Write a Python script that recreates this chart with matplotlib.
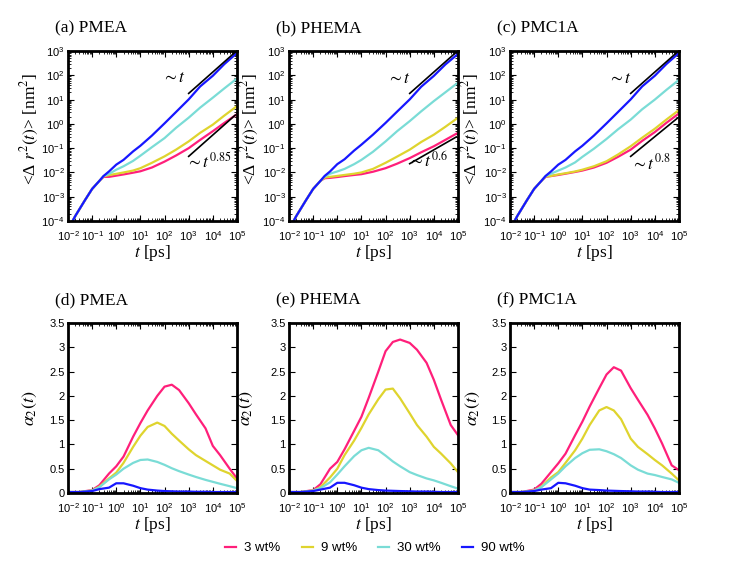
import numpy as np
import matplotlib
matplotlib.use("Agg")
import matplotlib.pyplot as plt
from matplotlib.ticker import LogLocator, FormatStrFormatter, MultipleLocator, NullFormatter

plt.rcParams["font.family"] = ["Liberation Sans", "DejaVu Sans"]
plt.rcParams["mathtext.fontset"] = "stix"

# ------------------------------
# data
# ------------------------------
labels = ["3 wt%", "9 wt%", "30 wt%", "90 wt%"]
colors = ["#ff1f7a", "#dfd42e", "#7adcd6", "#1717ff"]
polymers = ["PMEA", "PHEMA", "PMC1A"]

# MSD <dr^2(t)> [nm^2]
t_msd = [0.01, 0.02, 0.05, 0.1, 0.2, 0.3, 0.5, 1, 2, 5, 10, 30, 100, 300,
         1e3, 3e3, 1e4, 3e4, 1e5]
short_msd = [4.5e-5, 1.6e-4, 7.1e-4, 2.1e-3, 4.5e-3]   # common ballistic part

msd_pmea = {
    "3 wt%":  [6.6e-3, 6.6e-3, 7.4e-3, 8.3e-3, 9.8e-3, 1.12e-2, 1.6e-2, 2.8e-2, 5.0e-2,
               0.10, 0.22, 0.50, 1.1, 2.5],
    "9 wt%":  [7.0e-3, 7.8e-3, 8.8e-3, 1.0e-2, 1.2e-2, 1.5e-2, 2.5e-2, 4.6e-2, 8.7e-2,
               0.19, 0.43, 0.93, 2.2, 5.4],
    "30 wt%": [7.1e-3, 8.7e-3, 1.3e-2, 1.8e-2, 3.0e-2, 4.9e-2, 0.11, 0.26, 0.69,
               1.8, 4.7, 12, 29, 74],
    "90 wt%": [7.2e-3, 1.1e-2, 2.1e-2, 3.3e-2, 7.4e-2, 0.126, 0.33, 1.05, 3.1,
               10.2, 35, 96, 290, 830],
}
msd_phema = {
    "3 wt%":  [5.8e-3, 6.0e-3, 6.5e-3, 7.1e-3, 7.9e-3, 8.5e-3, 1.07e-2, 1.5e-2, 2.3e-2,
               3.9e-2, 6.8e-2, 0.12, 0.22, 0.43],
    "9 wt%":  [6.2e-3, 6.6e-3, 7.2e-3, 7.9e-3, 8.9e-3, 1.0e-2, 1.4e-2, 2.5e-2, 4.5e-2,
               8.7e-2, 0.18, 0.36, 0.76, 1.8],
    "30 wt%": [6.8e-3, 8.9e-3, 1.1e-2, 1.4e-2, 2.2e-2, 3.3e-2, 7.1e-2, 0.19, 0.50,
               1.3, 3.3, 8.7, 20, 50],
    "90 wt%": [7.2e-3, 1.1e-2, 2.2e-2, 3.5e-2, 8.0e-2, 0.14, 0.36, 1.1, 3.2,
               10.2, 34, 95, 280, 760],
}
msd_pmc1a = {
    "3 wt%":  [6.6e-3, 7.1e-3, 7.9e-3, 8.9e-3, 1.05e-2, 1.2e-2, 1.6e-2, 2.5e-2, 4.4e-2,
               8.7e-2, 0.20, 0.46, 1.1, 2.7],
    "9 wt%":  [6.8e-3, 7.2e-3, 8.3e-3, 9.3e-3, 1.1e-2, 1.3e-2, 1.8e-2, 2.9e-2, 5.5e-2,
               0.12, 0.27, 0.63, 1.5, 3.7],
    "30 wt%": [7.1e-3, 8.9e-3, 1.2e-2, 1.6e-2, 2.6e-2, 4.4e-2, 9.5e-2, 0.24, 0.60,
               1.5, 4.0, 10, 25, 65],
    "90 wt%": [7.2e-3, 1.1e-2, 2.1e-2, 3.3e-2, 7.4e-2, 0.126, 0.33, 1.05, 3.1,
               10.2, 35, 96, 290, 830],
}
msd_all = [msd_pmea, msd_phema, msd_pmc1a]

# guide lines and their labels
guide_t = [1e3, 8.5e4]
guide_lin = [[18, 900], [18, 900], [18, 900]]
guide_slow = [[4.6e-2, 2.3], [2.3e-2, 0.29], [4.6e-2, 1.7]]
slow_exp = ["0.85", "0.6", "0.8"]
slow_text_pos = [(7e3, 3.0e-2), (5.5e3, 3.4e-2), (7e3, 2.5e-2)]
lin_text_pos = [(2.5e2, 80), (3.5e2, 75), (3.5e2, 75)]

# non-Gaussian parameter alpha_2(t)
t_a2 = [0.01, 0.03, 0.1, 0.2, 0.5, 1, 2, 5, 10, 20, 50, 100, 200, 400,
        1e3, 2e3, 5e3, 1e4, 2e4, 5e4, 1e5]
a2_pmea = {
    "3 wt%":  [0.02, 0.02, 0.06, 0.16, 0.40, 0.55, 0.75, 1.16, 1.44, 1.70, 2.00, 2.19, 2.23, 2.12,
               1.85, 1.62, 1.33, 0.97, 0.78, 0.50, 0.30],
    "9 wt%":  [0.02, 0.02, 0.05, 0.13, 0.30, 0.42, 0.62, 0.95, 1.18, 1.36, 1.45, 1.38, 1.22, 1.08,
               0.90, 0.78, 0.66, 0.57, 0.48, 0.40, 0.25],
    "30 wt%": [0.02, 0.02, 0.05, 0.12, 0.28, 0.38, 0.50, 0.62, 0.68, 0.69, 0.64, 0.58, 0.51, 0.45,
               0.38, 0.33, 0.27, 0.23, 0.19, 0.14, 0.10],
    "90 wt%": [0.02, 0.02, 0.04, 0.08, 0.11, 0.20, 0.20, 0.15, 0.10, 0.07, 0.05, 0.04, 0.035, 0.03,
               0.03, 0.025, 0.025, 0.02, 0.02, 0.02, 0.02],
}
a2_phema = {
    "3 wt%":  [0.02, 0.02, 0.06, 0.18, 0.50, 0.64, 0.90, 1.28, 1.57, 1.96, 2.50, 2.92, 3.11, 3.16,
               3.09, 2.95, 2.68, 2.33, 1.92, 1.40, 1.19],
    "9 wt%":  [0.02, 0.02, 0.05, 0.12, 0.32, 0.50, 0.78, 1.08, 1.34, 1.62, 1.93, 2.13, 2.15, 1.95,
               1.64, 1.40, 1.16, 0.95, 0.81, 0.61, 0.43],
    "30 wt%": [0.02, 0.02, 0.05, 0.10, 0.22, 0.38, 0.55, 0.76, 0.88, 0.93, 0.88, 0.77, 0.65, 0.55,
               0.43, 0.37, 0.30, 0.26, 0.21, 0.14, 0.09],
    "90 wt%": [0.02, 0.02, 0.04, 0.07, 0.11, 0.21, 0.21, 0.16, 0.11, 0.08, 0.06, 0.05, 0.045, 0.04,
               0.035, 0.03, 0.03, 0.025, 0.02, 0.02, 0.02],
}
a2_pmc1a = {
    "3 wt%":  [0.02, 0.02, 0.07, 0.19, 0.43, 0.61, 0.81, 1.19, 1.47, 1.78, 2.16, 2.44, 2.59, 2.52,
               2.16, 1.92, 1.61, 1.33, 1.02, 0.57, 0.47],
    "9 wt%":  [0.02, 0.02, 0.05, 0.13, 0.32, 0.43, 0.62, 0.88, 1.12, 1.40, 1.70, 1.77, 1.70, 1.52,
               1.12, 0.95, 0.80, 0.68, 0.57, 0.40, 0.26],
    "30 wt%": [0.02, 0.02, 0.05, 0.12, 0.28, 0.40, 0.55, 0.72, 0.82, 0.89, 0.90, 0.86, 0.80, 0.72,
               0.57, 0.48, 0.40, 0.37, 0.33, 0.28, 0.21],
    "90 wt%": [0.02, 0.02, 0.04, 0.07, 0.10, 0.21, 0.20, 0.15, 0.10, 0.07, 0.06, 0.05, 0.045, 0.04,
               0.035, 0.03, 0.03, 0.025, 0.02, 0.02, 0.02],
}
a2_all = [a2_pmea, a2_phema, a2_pmc1a]

# ------------------------------
# figure
# ------------------------------
fig = plt.figure(figsize=(7.47, 5.61), dpi=100)
lefts = [0.0910, 0.3869, 0.6827]
w, h = 0.2262, 0.303
serif = ["Liberation Serif", "DejaVu Serif"]
ylab_x_top = [-0.16, -0.165, -0.165]
ylab_x_bot = [-0.17, -0.20, -0.165]


def style_axes(ax):
    for s in ax.spines.values():
        s.set_linewidth(2.0)
    ax.tick_params(which="both", direction="in", top=True, right=True, labelsize=8)
    ax.tick_params(which="major", length=4, width=0.8)
    ax.tick_params(which="minor", length=2, width=0.6)
    ax.tick_params(axis="x", which="major", pad=6)
    ax.tick_params(axis="y", which="major", pad=2.5)
    ax.set_xscale("log")
    ax.set_xlim(1e-2, 1e5)
    ax.xaxis.set_major_locator(LogLocator(base=10, numticks=20))
    ax.xaxis.set_minor_locator(LogLocator(base=10, subs=np.arange(2, 10), numticks=100))
    ax.xaxis.set_minor_formatter(NullFormatter())
    ax.set_xlabel("$t$ [ps]", fontsize=12.5, family=serif, labelpad=0)


letters_top = ["(a)", "(b)", "(c)"]
letters_bot = ["(d)", "(e)", "(f)"]

for i in range(3):
    # MSD panels
    ax = fig.add_axes([lefts[i], 0.606, w, h])
    style_axes(ax)
    for lab, col in zip(labels, colors):
        ax.plot(t_msd, short_msd + msd_all[i][lab], color=col, lw=1.6)
    ax.plot(guide_t, guide_lin[i], color="black", lw=1.2)
    ax.plot(guide_t, guide_slow[i], color="black", lw=1.2)
    ax.text(*lin_text_pos[i], r"$\sim t$", fontsize=12.5, ha="center", va="center")
    ax.text(*slow_text_pos[i], r"$\sim t^{%s}$" % slow_exp[i], fontsize=12.5,
            ha="center", va="center")
    ax.set_yscale("log")
    ax.set_ylim(1e-4, 1e3)
    ax.yaxis.set_major_locator(LogLocator(base=10, numticks=20))
    ax.yaxis.set_minor_locator(LogLocator(base=10, subs=np.arange(2, 10), numticks=100))
    ax.yaxis.set_minor_formatter(NullFormatter())
    ax.set_ylabel("<\u0394 $r^{2}(t)$> [nm$^{2}$]", fontsize=12.5, family=serif)
    ax.yaxis.set_label_coords(ylab_x_top[i], 0.54)
    ax.text(-0.077, 1.135, letters_top[i] + " " + polymers[i], transform=ax.transAxes,
            fontsize=12.5, family=serif, ha="left", va="center")

    # alpha_2 panels
    ax = fig.add_axes([lefts[i], 0.1212, w, h])
    style_axes(ax)
    for lab, col in zip(labels, colors):
        ax.plot(t_a2, a2_all[i][lab], color=col, lw=1.6, label=lab)
    ax.set_ylim(0, 3.5)
    ax.yaxis.set_major_locator(MultipleLocator(0.5))
    ax.yaxis.set_major_formatter(FormatStrFormatter("%g"))
    ax.set_ylabel(r"$\alpha_2(t)$", fontsize=13)
    ax.yaxis.set_label_coords(ylab_x_bot[i], 0.5)
    ax.text(-0.077, 1.135, letters_bot[i] + " " + polymers[i], transform=ax.transAxes,
            fontsize=12.5, family=serif, ha="left", va="center")

handles, labs = ax.get_legend_handles_labels()
fig.legend(handles, labs, loc="center", bbox_to_anchor=(0.502, 0.023), ncol=4,
           frameon=False, fontsize=9.5, handlelength=0.85, handletextpad=0.6,
           columnspacing=1.6)

fig.savefig("out.png", dpi=100)
